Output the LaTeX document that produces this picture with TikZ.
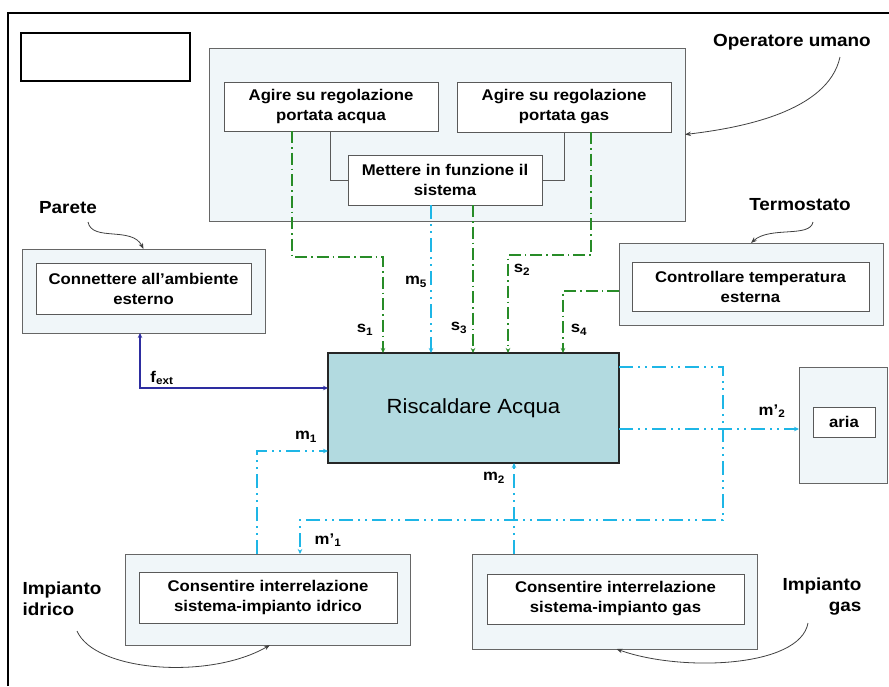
\documentclass[tikz,border=0pt]{standalone}
\usepackage{fontspec}
\setmainfont{Liberation Sans}[FakeStretch=1.08]
\usetikzlibrary{arrows.meta}

\definecolor{boxfill}{RGB}{240,246,249}
\definecolor{riscfill}{RGB}{178,218,224}
\definecolor{ctrlgreen}{RGB}{40,140,40}
\definecolor{flowcyan}{RGB}{30,182,230}
\definecolor{fextblue}{RGB}{45,45,160}

\tikzset{
  outerbox/.style={draw=gray!80!black, fill=boxfill, line width=1pt, inner sep=0pt, outer sep=0pt},
  innerbox/.style={draw=gray!70!black, fill=white, line width=1pt, inner sep=0pt, outer sep=0pt,
    align=center, font=\fontsize{15.5}{20}\selectfont\bfseries},
  lbl/.style={font=\fontsize{15.5}{18}\selectfont\bfseries, inner sep=1pt},
  who/.style={font=\fontsize{17.5}{21}\selectfont\bfseries, inner sep=0pt},
  ctrl/.style={ctrlgreen, line width=1.4pt, dash pattern=on 12pt off 4pt on 1.5pt off 4pt,
    -{Stealth[length=5pt,width=4.5pt]}},
  flow/.style={flowcyan, line width=1.4pt, dash pattern=on 14pt off 5pt on 2pt off 5pt on 2pt off 5pt},
  note/.style={black!75, line width=0.8pt, -{Stealth[length=6pt,width=4.5pt]}},
  tip/.style={-{Stealth[length=5pt,width=4.5pt]}}
}

\begin{document}
\begin{tikzpicture}[x=1pt, y=-1pt]
  \useasboundingbox (0,0) rectangle (889,686);
  % frame
  \draw[line width=1.5pt] (8,686) -- (8,13) -- (889,13);
  \node[draw, line width=1.5pt, minimum width=169pt, minimum height=48pt, inner sep=0pt] (empty) at (105.5,57) {};

  % operatore umano
  \node[outerbox, minimum width=476pt, minimum height=173pt] (opbox) at (447,134.5) {};
  \node[innerbox, minimum width=214pt, minimum height=49pt] (acqua) at (331,106.5) {Agire su regolazione\\portata acqua};
  \node[innerbox, minimum width=214pt, minimum height=50pt] (gasreg) at (564,107) {Agire su regolazione\\portata gas};
  \node[innerbox, minimum width=194pt, minimum height=50pt] (avvio) at (445,180) {Mettere in funzione il\\sistema};
  \draw[gray!70!black, line width=1pt] (acqua.south -| 330,0) |- (avvio.west);
  \draw[gray!70!black, line width=1pt] (gasreg.south -| 564,0) |- (avvio.east);

  % other boxes
  \node[outerbox, minimum width=243pt, minimum height=84pt] (parout) at (143.5,291) {};
  \node[innerbox, minimum width=215pt, minimum height=51pt] (parete) at (143.5,288.5) {Connettere all'ambiente\\esterno};
  \node[outerbox, minimum width=264pt, minimum height=82pt] (termout) at (751,284) {};
  \node[innerbox, minimum width=237pt, minimum height=49pt] (termo) at (750.5,286.5) {Controllare temperatura\\esterna};
  \node[outerbox, minimum width=88pt, minimum height=116pt] (ariaout) at (843,425) {};
  \node[innerbox, minimum width=62pt, minimum height=30pt] (aria) at (844,422) {aria};
  \node[outerbox, minimum width=285pt, minimum height=91pt] (idrout) at (267.5,599.5) {};
  \node[innerbox, minimum width=258pt, minimum height=51pt] (idrico) at (268,597.5) {Consentire interrelazione\\sistema-impianto idrico};
  \node[outerbox, minimum width=285pt, minimum height=95pt] (gasout) at (614.5,601.5) {};
  \node[innerbox, minimum width=257pt, minimum height=50pt] (gasimp) at (615.5,599) {Consentire interrelazione\\sistema-impianto gas};

  % main function
  \node[draw=black!85, fill=riscfill, line width=1.8pt, minimum width=291pt, minimum height=110pt,
    inner sep=0pt, outer sep=0pt, font=\fontsize{20.5}{24}\selectfont] (risc) at (473.5,408) {Riscaldare Acqua};

  % who labels
  \node[who] (lop) at (792,42) {Operatore umano};
  \node[who] (lpar) at (68,208) {Parete};
  \node[who] (lterm) at (800,205) {Termostato};
  \node[who, align=left] (lidr) at (62,599) {Impianto\\idrico};
  \node[who, align=right] (lgas) at (822,597) {Impianto\\gas};
  \draw[note] (840,57) .. controls (828,112) and (740,128) .. (opbox.east);
  \draw[note] (88,222) .. controls (92,242) and (132,226) .. (parout.north);
  \draw[note] (813,222) .. controls (810,238) and (770,226) .. (termout.north);
  \draw[note] (77,631) .. controls (95,672) and (210,680) .. ([xshift=2.5pt]idrout.south);
  \draw[note] (808,623) .. controls (800,668) and (680,672) .. ([xshift=2pt]gasout.south);

  % control signals
  \draw[ctrl] ([xshift=-39pt]acqua.south) |- (383,257) -- ([xshift=-90.5pt]risc.north);
  \draw[ctrl] ([xshift=28pt]avvio.south) -- ([xshift=-0.5pt]risc.north);
  \draw[ctrl] ([xshift=27pt]gasreg.south) |- (508,255) -- ([xshift=34.5pt]risc.north);
  \draw[ctrl] ([yshift=-7pt]termout.west) -| ([xshift=89.5pt]risc.north);
  \draw[flow, tip] ([xshift=-14pt]avvio.south) -- ([xshift=-42.5pt]risc.north);

  % flows
  \draw[fextblue, line width=1.2pt, {Stealth[length=5pt,width=4.5pt]}-{Stealth[length=5pt,width=4.5pt]}]
    ([xshift=-3.5pt]parout.south) |- ([yshift=20pt]risc.west);
  \draw[flow, tip] ([xshift=-10.5pt]idrout.north) |- ([yshift=-43pt]risc.west);
  \draw[flow, tip] ([xshift=-100.5pt]gasout.north) -- ([xshift=40.5pt]risc.south);
  \draw[flow, tip] ([yshift=41pt]risc.east) -| (723,520) -| ([xshift=32.5pt]idrout.north);
  \coordinate (arout) at ([yshift=-21pt]risc.east);
  \draw[flow, tip] (arout) -- (arout -| ariaout.west);

  % signal labels
  \node[lbl] (ls1) at (365,330) {s\textsubscript{1}};
  \node[lbl] (lm5) at (416,282) {m\textsubscript{5}};
  \node[lbl] (ls3) at (459,328) {s\textsubscript{3}};
  \node[lbl] (ls2) at (522,270) {s\textsubscript{2}};
  \node[lbl] (ls4) at (579,330) {s\textsubscript{4}};
  \node[lbl] (lfext) at (162,378) {f\textsubscript{ext}};
  \node[lbl] (lm1) at (306,437) {m\textsubscript{1}};
  \node[lbl] (lm2) at (494,478) {m\textsubscript{2}};
  \node[lbl] (lm1p) at (328,540) {m'\textsubscript{1}};
  \node[lbl] (lm2p) at (772,411) {m'\textsubscript{2}};
\end{tikzpicture}
\end{document}
